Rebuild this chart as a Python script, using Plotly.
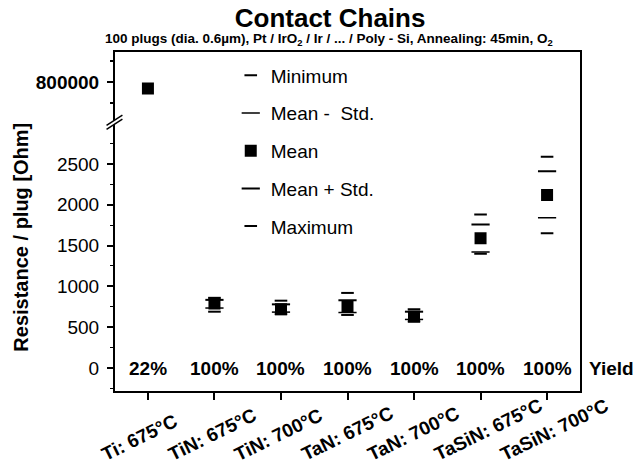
import plotly.graph_objects as go

categories = ["Ti: 675°C", "TiN: 675°C", "TiN: 700°C", "TaN: 675°C",
              "TaN: 700°C", "TaSiN: 675°C", "TaSiN: 700°C"]
yield_labels = ["22%", "100%", "100%", "100%", "100%", "100%", "100%"]

# lower-panel statistics (Ti is off-scale, shown in upper panel)
minimum   = [None, 690, 660, 650, 570, 1400, 1650]
mean_m_sd = [None, 735, 685, 680, 595, 1420, 1840]
mean      = [None, 790, 720, 750, 630, 1590, 2120]
mean_p_sd = [None, 835, 780, 830, 690, 1760, 2410]
maximum   = [None, 860, 825, 920, 720, 1880, 2590]
ti_mean   = [785000]

y_ticks_low = [0, 500, 1000, 1500, 2000, 2500]
y_ticks_high = [800000]

FONT = "Liberation Sans, Arial, sans-serif"
fig = go.Figure()

def dash(name, vals, size, width):
    fig.add_trace(go.Scatter(
        x=categories, y=vals, mode="markers", name=name, legendgroup=name,
        marker=dict(symbol="line-ew", size=size, color="black",
                    line=dict(color="black", width=width)),
        yaxis="y", xaxis="x"))

dash("Minimum", minimum, 9, 2)
dash("Mean -  Std.", mean_m_sd, 13, 1.5)
fig.add_trace(go.Scatter(
    x=categories, y=mean, mode="markers", name="Mean", legendgroup="Mean",
    marker=dict(symbol="square", size=12, color="black"), yaxis="y"))
dash("Mean + Std.", mean_p_sd, 13, 2)
dash("Maximum", maximum, 9, 2)

fig.add_trace(go.Scatter(
    x=categories[:1], y=ti_mean, mode="markers", showlegend=False,
    marker=dict(symbol="square", size=12, color="black"), yaxis="y2"))

BIG = dict(size=19, family=FONT, color="black")
annotations = []
for c, t in zip(categories, yield_labels):
    annotations.append(dict(x=c, y=0, xref="x", yref="y", text="<b>" + t + "</b>",
                            showarrow=False, font=BIG,
                            xanchor="center", yanchor="middle"))
# rotated category labels, anchored at their lower-left start
for c in categories:
    annotations.append(dict(x=c, y=-0.222, xref="x", yref="paper", text="<b>" + c + "</b>",
                            showarrow=False, textangle=-26, font=dict(size=19, family=FONT, color="black"),
                            xanchor="left", yanchor="bottom", xshift=-52))
annotations.append(dict(x=1.012, y=0, xref="paper", yref="y", text="<b>Yield</b>",
                        showarrow=False, xanchor="left", yanchor="middle", font=BIG))
annotations.append(dict(x=0.46, y=1.004, xref="paper", yref="paper",
                        text="<b>100 plugs (dia. 0.6µm), Pt / IrO<sub>2</sub> / Ir / ... / Poly - Si, Annealing: 45min, O<sub>2</sub></b>",
                        showarrow=False, xanchor="center", yanchor="bottom",
                        font=dict(size=13.5, family=FONT, color="black")))
annotations.append(dict(x=-0.201, y=0.453, xref="paper", yref="paper",
                        text="<b>Resistance / plug [Ohm]</b>", textangle=-90,
                        showarrow=False, xanchor="center", yanchor="middle",
                        font=dict(size=20, family=FONT, color="black")))

shapes = [
    dict(type="rect", xref="paper", yref="paper", x0=0, x1=1, y0=0, y1=1,
         line=dict(color="black", width=2)),
    dict(type="path", xref="paper", yref="paper",
         path="M -0.016 0.770 L 0.018 0.800 L 0.018 0.812 L -0.016 0.782 Z",
         fillcolor="white", line=dict(width=0)),
    dict(type="line", xref="paper", yref="paper", x0=-0.016, y0=0.770, x1=0.018, y1=0.800,
         line=dict(color="black", width=1.5)),
    dict(type="line", xref="paper", yref="paper", x0=-0.016, y0=0.782, x1=0.018, y1=0.812,
         line=dict(color="black", width=1.5)),
]

tickfont = dict(size=19, family=FONT, color="black")
fig.update_layout(
    width=636, height=471,
    margin=dict(l=114, r=55, t=51, b=79),
    paper_bgcolor="white", plot_bgcolor="white",
    font=dict(family=FONT, color="black"),
    title=dict(text="<b>Contact Chains</b>", x=0.519, xanchor="center", y=0.963, yanchor="middle",
               font=dict(size=26, family=FONT, color="black")),
    xaxis=dict(type="category", categoryorder="array", categoryarray=categories,
               range=[-0.51, 6.51], showgrid=False, zeroline=False, showline=False,
               ticks="outside", ticklen=7, tickwidth=1.5, tickcolor="black",
               showticklabels=False, anchor="y"),
    yaxis=dict(domain=[0, 0.785], range=[-294, 2986], tickvals=y_ticks_low,
               showgrid=False, zeroline=False, showline=False,
               ticks="outside", ticklen=6, tickwidth=1.5, tickcolor="black",
               ticklabelstandoff=4,
               minor=dict(dtick=250, tick0=0, ticks="outside", ticklen=3, tickcolor="black", tickwidth=1),
               tickfont=tickfont, tickprefix="<b>", ticksuffix="</b>"),
    yaxis2=dict(domain=[0.80, 1], range=[712000, 874000], tickvals=y_ticks_high,
                ticktext=["<b>800000</b>"], anchor="x",
                showgrid=False, zeroline=False, showline=False,
                ticks="outside", ticklen=6, tickwidth=1.5, tickcolor="black",
                ticklabelstandoff=4,
                minor=dict(dtick=50000, tick0=0, ticks="outside", ticklen=3, tickcolor="black"),
                tickfont=tickfont),
    legend=dict(x=0.25, y=0.984, xanchor="left", yanchor="top",
                bgcolor="rgba(0,0,0,0)", tracegroupgap=10,
                font=dict(size=19, family=FONT, color="black")),
    annotations=annotations,
    shapes=shapes,
    showlegend=True,
)

fig.write_html("out.html")
